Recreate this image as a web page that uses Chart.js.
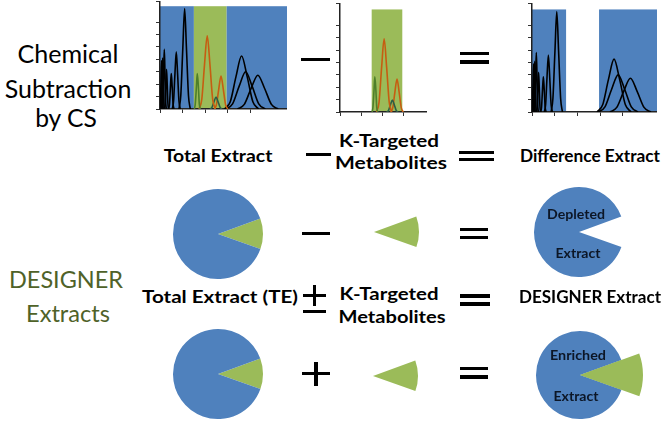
<!DOCTYPE html>
<html>
<head>
<meta charset="utf-8">
<script src="https://cdn.jsdelivr.net/npm/chart.js@4.4.1/dist/chart.umd.min.js"></script>
<style>
html, body { margin: 0; padding: 0; background: #fff; }
#stage { position: relative; width: 666px; height: 421px; overflow: hidden; font-family: Lato, "Open Sans", sans-serif; }
canvas { position: absolute; }
.t { position: absolute; white-space: nowrap; line-height: 1; transform-origin: center; color: #000; }
.b { font-weight: 700; }
.pl { font-weight: 700; font-size: 14px; color: #0c1626; }
.op { position: absolute; background: #000; }
</style>
</head>
<body>
<div id="stage">
  <!-- chromatograms -->
  <canvas id="chromTotal" width="131" height="112" style="left:156px;top:1px"></canvas>
  <canvas id="chromTarget" width="91" height="113" style="left:336px;top:3px"></canvas>
  <canvas id="chromDiff" width="129" height="113" style="left:528px;top:3px"></canvas>

  <!-- pies -->
  <canvas id="pieTE1" width="90" height="90" style="left:173px;top:189px"></canvas>
  <canvas id="pieK1" width="90" height="90" style="left:329px;top:187px"></canvas>
  <canvas id="pieDepleted" width="90" height="90" style="left:534px;top:187px"></canvas>
  <canvas id="pieTE2" width="90" height="90" style="left:173px;top:329px"></canvas>
  <canvas id="pieK2" width="90" height="90" style="left:328px;top:331px"></canvas>
  <canvas id="pieEnriched" width="88" height="88" style="left:536px;top:331px"></canvas>
  <canvas id="pieEnrichedAdd" width="126" height="126" style="left:517px;top:312px"></canvas>

  <!-- left titles -->
  <div class="t" data-x="67.5" data-y="54" data-w="101" style="font-size:25.5px">Chemical</div>
  <div class="t" data-x="68.3" data-y="89" data-w="126.7" style="font-size:25.5px">Subtraction</div>
  <div class="t" data-x="66" data-y="117.5" data-w="61.7" style="font-size:25.5px">by CS</div>
  <div class="t" data-x="66" data-y="280" data-w="114" style="font-size:23.3px;color:#4f6228">DESIGNER</div>
  <div class="t" data-x="68" data-y="313.8" data-w="84" style="font-size:23.3px;color:#4f6228">Extracts</div>

  <!-- row labels -->
  <div class="t b" data-x="218" data-y="156" data-w="108.7" style="font-size:16.6px">Total Extract</div>
  <div class="t b" data-x="388.5" data-y="141" data-w="100" style="font-size:16.6px">K-Targeted</div>
  <div class="t b" data-x="391" data-y="162.5" data-w="112" style="font-size:16.6px">Metabolites</div>
  <div class="t b" data-x="590" data-y="156" data-w="140" style="font-size:16.6px">Difference Extract</div>

  <div class="t b" data-x="220" data-y="297" data-w="156" style="font-size:16.6px">Total Extract (TE)</div>
  <div class="t b" data-x="389" data-y="293.5" data-w="99" style="font-size:16.6px">K-Targeted</div>
  <div class="t b" data-x="392" data-y="316.5" data-w="107" style="font-size:16.6px">Metabolites</div>
  <div class="t b" data-x="590" data-y="297" data-w="142" style="font-size:16.6px">DESIGNER Extract</div>

  <!-- labels inside pies -->
  <div class="t pl" data-x="576" data-y="214.3" data-w="58">Depleted</div>
  <div class="t pl" data-x="577.5" data-y="252.7" data-w="45">Extract</div>
  <div class="t pl" data-x="578" data-y="354.5" data-w="56">Enriched</div>
  <div class="t pl" data-x="576" data-y="396" data-w="45">Extract</div>

  <!-- operators -->
  <div class="op" style="left:301px;top:57.5px;width:29px;height:3.5px"></div>
  <div class="op" style="left:460px;top:51.5px;width:29px;height:3.5px"></div>
  <div class="op" style="left:460px;top:60px;width:29px;height:3.5px"></div>

  <div class="op" style="left:306px;top:153px;width:25px;height:3.3px"></div>
  <div class="op" style="left:458.6px;top:150.8px;width:35px;height:3.2px"></div>
  <div class="op" style="left:458.6px;top:157.6px;width:35px;height:3.2px"></div>

  <div class="op" style="left:301.7px;top:231.5px;width:28.3px;height:3.6px"></div>
  <div class="op" style="left:460px;top:227.5px;width:28.3px;height:3.6px"></div>
  <div class="op" style="left:460px;top:235.5px;width:28.3px;height:3.6px"></div>

  <div class="op" style="left:303px;top:293.5px;width:23px;height:3.2px"></div>
  <div class="op" style="left:313px;top:285px;width:3.2px;height:21px"></div>
  <div class="op" style="left:303px;top:309.5px;width:23px;height:3.2px"></div>
  <div class="op" style="left:460px;top:294.3px;width:30px;height:3.4px"></div>
  <div class="op" style="left:460px;top:302.3px;width:30px;height:3.4px"></div>

  <div class="op" style="left:301.7px;top:371.5px;width:28.3px;height:3.6px"></div>
  <div class="op" style="left:314px;top:361.7px;width:3.6px;height:24.3px"></div>
  <div class="op" style="left:460px;top:366.5px;width:28.3px;height:3.6px"></div>
  <div class="op" style="left:460px;top:375px;width:28.3px;height:3.6px"></div>
</div>

<script>
// peak traces: [retention time, response] pairs
const earlyPeaks = [
  [[-0.005, 0], [0.02, 0.53], [0.045, 2.37], [0.07, 3.9], [0.095, 2.37], [0.12, 0.53], [0.145, 0]],
  [[0.045, 0], [0.07, 0.55], [0.095, 2.49], [0.12, 4.1], [0.145, 2.49], [0.17, 0.55], [0.195, 0]],
  [[0.10, 0], [0.13, 0.65], [0.16, 2.91], [0.19, 4.8], [0.22, 2.91], [0.25, 0.65], [0.28, 0]],
  [[0.20, 0], [0.23, 0.43], [0.26, 1.94], [0.29, 3.2], [0.32, 1.94], [0.35, 0.43], [0.38, 0]],
  [[0.38, 0], [0.42, 0.38], [0.46, 1.73], [0.50, 2.85], [0.54, 1.73], [0.58, 0.38], [0.62, 0]],
  [[0.54, 0], [0.60, 0.62], [0.66, 2.79], [0.72, 4.6], [0.78, 2.79], [0.84, 0.62], [0.90, 0]],
  [[0.84, 0], [0.92, 1.09], [1.01, 4.92], [1.09, 8.1], [1.17, 4.92], [1.26, 1.09], [1.34, 0]]
];
const targetPeaks = [
  [[1.52, 0], [1.56, 0.38], [1.61, 1.73], [1.65, 2.85], [1.70, 1.73], [1.74, 0.38], [1.79, 0]],
  [[1.73, 0], [1.85, 0.80], [1.97, 3.58], [2.09, 5.9], [2.21, 3.58], [2.33, 0.80], [2.45, 0]],
  [[2.21, 0], [2.30, 0.13], [2.39, 0.59], [2.48, 0.97], [2.57, 0.59], [2.66, 0.13], [2.75, 0]],
  [[2.40, 0], [2.50, 0.36], [2.60, 1.61], [2.70, 2.66], [2.80, 1.61], [2.90, 0.36], [3.00, 0]]
];
const latePeaks = [
  [[2.86, 0], [3.11, 0.58], [3.36, 2.59], [3.61, 4.27], [3.86, 2.59], [4.11, 0.58], [4.36, 0]],
  [[2.92, 0], [3.21, 0.41], [3.50, 1.82], [3.79, 3.0], [4.08, 1.82], [4.37, 0.41], [4.66, 0]],
  [[3.43, 0], [3.73, 0.37], [4.03, 1.65], [4.33, 2.72], [4.63, 1.65], [4.93, 0.37], [5.23, 0]]
];

// retention windows (min)
const earlyWindow = [0, 1.5];
const targetWindow = [1.5, 2.95];
const lateWindowTotal = [2.95, 5.62];
const lateWindowDiff = [2.95, 5.5];
const windowTop = 8.28;

// share of the extract taken by the K-targeted metabolites (%)
const pieLabels = ['K-Targeted Metabolites', 'Rest of Extract'];
const extractShares = [11, 89];

const BLUE = '#4f81bd';
const GREEN = '#9bbb59';
const NONE = 'rgba(0,0,0,0)';
const targetColors = ['#4e7f2a', '#c65d11', '#2c5f45', '#c65d11'];

const bandPlugin = {
  id: 'bands',
  beforeDraw(chart, args, opts) {
    const { ctx, scales: { x, y } } = chart;
    ctx.save();
    (opts.list || []).forEach(b => {
      const x0 = x.getPixelForValue(b.range[0]);
      const x1 = x.getPixelForValue(b.range[1]);
      const y0 = y.getPixelForValue(windowTop);
      const y1 = y.getPixelForValue(0);
      ctx.fillStyle = b.color;
      ctx.fillRect(x0, y0, x1 - x0, y1 - y0);
    });
    ctx.restore();
  }
};

function traces(peaks, colors) {
  return peaks.map((p, i) => ({
    data: p.map(([x, y]) => ({ x, y })),
    borderColor: colors ? colors[i] : '#000',
    borderWidth: 1.6,
    pointRadius: 0,
    fill: false,
    cubicInterpolationMode: 'monotone'
  }));
}

function axis(max) {
  return {
    type: 'linear', min: 0, max: max,
    ticks: { display: false, stepSize: 1 },
    grid: { drawOnChartArea: false, drawTicks: true, tickLength: 4, color: '#333' },
    border: { color: '#222', width: 1.5 }
  };
}

function chromatogram(id, xMax, yMax, datasets, bands) {
  new Chart(document.getElementById(id), {
    type: 'line',
    data: { datasets },
    options: {
      responsive: false,
      animation: false,
      events: [],
      layout: { padding: 0, autoPadding: false },
      plugins: { legend: { display: false }, tooltip: { enabled: false }, bands: { list: bands } },
      scales: { x: axis(xMax), y: axis(yMax) }
    },
    plugins: [bandPlugin]
  });
}

chromatogram('chromTotal', 5.62, 8.7,
  [...traces(earlyPeaks), ...traces(targetPeaks, targetColors), ...traces(latePeaks)],
  [{ range: earlyWindow, color: BLUE }, { range: targetWindow, color: GREEN }, { range: lateWindowTotal, color: BLUE }]);

chromatogram('chromTarget', 4.12, 8.8,
  traces(targetPeaks, targetColors),
  [{ range: targetWindow, color: GREEN }]);

chromatogram('chromDiff', 5.5, 8.8,
  [...traces(earlyPeaks), ...traces(latePeaks)],
  [{ range: earlyWindow, color: BLUE }, { range: lateWindowDiff, color: BLUE }]);

function pie(id, colors) {
  new Chart(document.getElementById(id), {
    type: 'pie',
    data: { labels: pieLabels, datasets: [{ data: extractShares, backgroundColor: colors, borderWidth: 0 }] },
    options: {
      responsive: false,
      animation: false,
      events: [],
      rotation: 70,
      layout: { padding: 0 },
      plugins: { legend: { display: false }, tooltip: { enabled: false } }
    }
  });
}

pie('pieTE1', [GREEN, BLUE]);
pie('pieK1', [GREEN, NONE]);
pie('pieDepleted', [NONE, BLUE]);
pie('pieTE2', [GREEN, BLUE]);
pie('pieK2', [GREEN, NONE]);
// enriched extract: whole TE pie with an enlarged K slice laid over it
pie('pieEnriched', [GREEN, BLUE]);
pie('pieEnrichedAdd', [GREEN, NONE]);

function placeLabels() {
  document.querySelectorAll('.t').forEach(el => {
    el.style.transform = 'none';
    el.style.left = '0px';
    el.style.top = '0px';
    const w = el.getBoundingClientRect().width;
    const s = +el.dataset.w / w;
    el.style.left = el.dataset.x + 'px';
    el.style.top = el.dataset.y + 'px';
    el.style.transform = 'translate(-50%,-50%) scaleX(' + s.toFixed(3) + ')';
  });
}
placeLabels();
if (document.fonts && document.fonts.ready) document.fonts.ready.then(placeLabels);
</script>
</body>
</html>
